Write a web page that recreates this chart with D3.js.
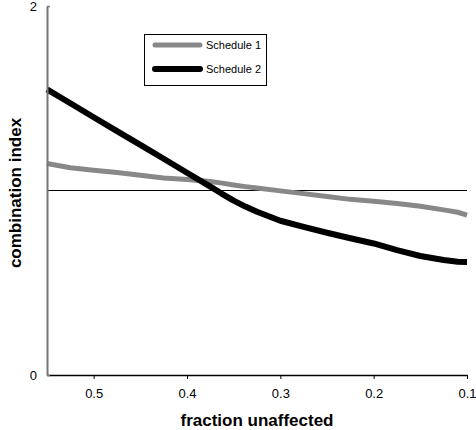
<!DOCTYPE html>
<html>
<head>
<meta charset="utf-8">
<script src="https://cdn.jsdelivr.net/npm/d3@7"></script>
<style>
  html, body { margin: 0; padding: 0; background: #fff; }
  svg { display: block; font-family: "Liberation Sans", Arial, sans-serif; }
</style>
</head>
<body>
<svg id="chart" width="476" height="430"></svg>
<script>
const fractionUnaffected = [0.55, 0.525, 0.5, 0.475, 0.45, 0.425, 0.4, 0.375, 0.3625, 0.35, 0.3375, 0.325, 0.3, 0.275, 0.25, 0.225, 0.2, 0.175, 0.15, 0.125, 0.11, 0.1];
const schedule1 = [1.146, 1.123, 1.110, 1.097, 1.083, 1.068, 1.060, 1.049, 1.040, 1.030, 1.021, 1.013, 0.998, 0.983, 0.968, 0.952, 0.942, 0.930, 0.915, 0.895, 0.882, 0.867];
const schedule2 = [1.548, 1.473, 1.397, 1.322, 1.247, 1.172, 1.096, 1.021, 0.982, 0.945, 0.913, 0.885, 0.836, 0.803, 0.771, 0.741, 0.713, 0.677, 0.645, 0.623, 0.614, 0.613];
const xTicks = [0.5, 0.4, 0.3, 0.2, 0.1];
const yTicks = [0, 2];
const seriesNames = ["Schedule 1", "Schedule 2"];
const seriesColors = ["#888888", "#000000"];

const svg = d3.select("#chart");
const x = d3.scaleLinear().domain([0.55, 0.1]).range([47, 467]);
const y = d3.scaleLinear().domain([0, 2]).range([375, 6]);

// reference line at 1
svg.append("line")
  .attr("x1", x(0.55)).attr("x2", x(0.1))
  .attr("y1", y(1)).attr("y2", y(1))
  .attr("stroke", "#000").attr("stroke-width", 1);

const line = d3.line().x((d, i) => x(fractionUnaffected[i])).y(d => y(d));
const series = [schedule1, schedule2];
const widths = [5, 6];
series.forEach((s, k) => {
  svg.append("path").datum(s)
    .attr("d", line)
    .attr("fill", "none")
    .attr("stroke", seriesColors[k])
    .attr("stroke-width", widths[k])
    .attr("stroke-linejoin", "round");
});

// x axis
const xAxis = d3.axisBottom(x).tickValues(xTicks).tickSize(4).tickSizeOuter(0).tickPadding(10)
  .tickFormat(d3.format(".1f"));
const gx = svg.append("g").attr("transform", `translate(0,${y(0)})`).call(xAxis);
gx.select(".domain").attr("stroke", "#000").attr("stroke-width", 1.5);
gx.selectAll(".tick line").attr("stroke", "#000");
gx.selectAll(".tick text").attr("font-size", 13).attr("font-family", "Liberation Sans, Arial, sans-serif").attr("fill", "#000");

// y axis
const yAxis = d3.axisLeft(y).tickValues(yTicks).tickSize(-3).tickSizeOuter(0).tickPadding(10)
  .tickFormat(d3.format("d"));
const gy = svg.append("g").attr("transform", `translate(${x(0.55)},0)`).call(yAxis);
gy.select(".domain").attr("stroke", "#777").attr("stroke-width", 2);
gy.selectAll(".tick line").attr("stroke", "#777").attr("stroke-width", 1.5);
gy.selectAll(".tick text").attr("font-size", 13).attr("font-family", "Liberation Sans, Arial, sans-serif").attr("fill", "#000");

// axis titles
svg.append("text")
  .attr("x", 257).attr("y", 426)
  .attr("text-anchor", "middle")
  .attr("font-size", 17).attr("font-weight", "bold")
  .text("fraction unaffected");
svg.append("text")
  .attr("transform", `translate(15,193) rotate(-90)`)
  .attr("text-anchor", "middle")
  .attr("dy", "0.35em")
  .attr("font-size", 17).attr("font-weight", "bold")
  .text("combination index");

// legend
const lg = svg.append("g");
lg.append("rect").attr("x", 144.5).attr("y", 34.5).attr("width", 122).attr("height", 51)
  .attr("fill", "#fff").attr("stroke", "#000").attr("stroke-width", 1);
seriesNames.forEach((n, k) => {
  const yy = 45 + k * 24;
  lg.append("line").attr("x1", 155).attr("x2", 200).attr("y1", yy).attr("y2", yy)
    .attr("stroke", seriesColors[k]).attr("stroke-width", widths[k]).attr("stroke-linecap", "round");
  lg.append("text").attr("x", 206).attr("y", yy).attr("dy", "0.35em")
    .attr("font-size", 11).text(n);
});
</script>
</body>
</html>
